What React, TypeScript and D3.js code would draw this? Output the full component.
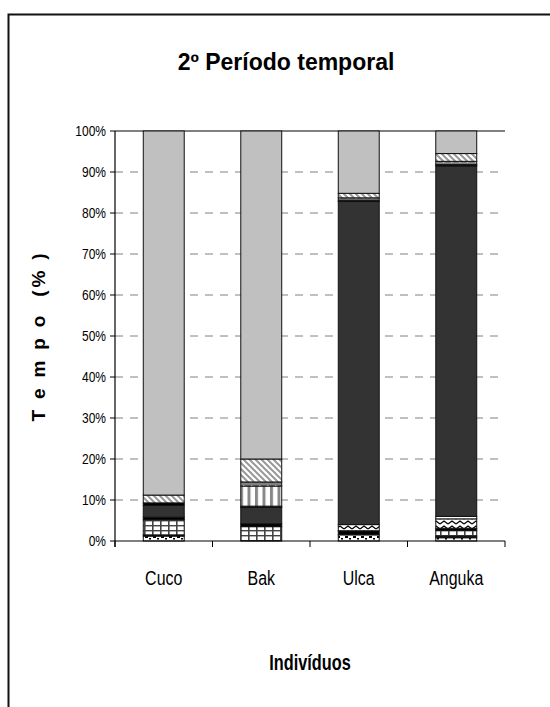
import * as d3 from "d3";

// individuals on the x axis
const individuals = ["Cuco", "Bak", "Ulca", "Anguka"];

// % of time per behaviour, stacked bottom -> top (legend not shown in the source)
const dotted = [1.2, 0, 1.5, 0.8];
const blackA = [0.3, 0, 1.0, 0.4];
const grid = [3.7, 3.5, 0, 1.4];
const blackB = [0.6, 0.7, 0, 0.5];
const zigzag = [0, 0, 1.5, 2.3];
const white = [0, 0, 0, 0.6];
const darkGray = [2.9, 4.0, 78.8, 85.5];
const blackC = [0.6, 0.3, 0.3, 0.3];
const vStripes = [0, 4.9, 0, 0];
const grayDots = [0, 1.0, 0.6, 0.8];
const hatch = [1.9, 5.6, 1.1, 1.9];
const lightGray = [88.8, 80.0, 15.2, 5.5];

const yTicks = [0, 10, 20, 30, 40, 50, 60, 70, 80, 90, 100];

const series = [
  { key: "dotted", values: dotted, fill: "url(#pDotted)" },
  { key: "blackA", values: blackA, fill: "#000" },
  { key: "grid", values: grid, fill: "url(#pGrid)" },
  { key: "blackB", values: blackB, fill: "#000" },
  { key: "zigzag", values: zigzag, fill: "url(#pZigzag)" },
  { key: "white", values: white, fill: "#fff" },
  { key: "darkGray", values: darkGray, fill: "#333" },
  { key: "blackC", values: blackC, fill: "#000" },
  { key: "vStripes", values: vStripes, fill: "url(#pVStripes)" },
  { key: "grayDots", values: grayDots, fill: "url(#pGrayDots)" },
  { key: "hatch", values: hatch, fill: "url(#pHatch)" },
  { key: "lightGray", values: lightGray, fill: "#c0c0c0" },
];

const W = 550;
const H = 707;
const M = { left: 115, right: 505, top: 131, bottom: 541 };

const sans = "'Liberation Sans', Arial, sans-serif";

// the source uses a narrow face; squeeze Liberation Sans horizontally
function NarrowText(props: {
  x: number;
  y: number;
  size: number;
  anchor: string;
  squeeze?: number;
  bold?: boolean;
  children: any;
}) {
  return (
    <text
      transform={`translate(${props.x},${props.y}) scale(${props.squeeze ?? 0.8},1)`}
      textAnchor={props.anchor}
      fontFamily={sans}
      fontWeight={props.bold ? "bold" : "normal"}
      fontSize={props.size}
    >
      {props.children}
    </text>
  );
}

export default function App() {
  const x = d3
    .scaleBand<string>()
    .domain(individuals)
    .range([M.left, M.right])
    .paddingInner(0.58)
    .paddingOuter(0.29);
  const y = d3.scaleLinear().domain([0, 100]).range([M.bottom, M.top]);

  const table = individuals.map((name, i) => {
    const row: any = { name };
    series.forEach((s) => (row[s.key] = s.values[i]));
    return row;
  });
  const stacked = d3.stack<any>().keys(series.map((s) => s.key))(table);

  const step = x.step();
  const boundaries = d3.range(individuals.length + 1).map((i) => M.left + i * step);

  return (
    <svg
      width={W}
      height={H}
      style={{ position: "fixed", left: 0, top: 0, background: "#fff" }}
    >
      <defs>
        <pattern id="pDotted" width="8" height="5" patternUnits="userSpaceOnUse">
          <rect width="8" height="5" fill="#fff" />
          <rect x="1" y="1" width="3" height="2" fill="#000" />
          <rect x="5" y="3" width="2" height="1.5" fill="#000" />
        </pattern>
        <pattern id="pGrid" width="8" height="5" patternUnits="userSpaceOnUse">
          <rect width="8" height="5" fill="#fff" />
          <rect x="0" y="0" width="1.6" height="5" fill="#444" />
          <rect x="0" y="0" width="8" height="1.4" fill="#444" />
        </pattern>
        <pattern id="pZigzag" width="8" height="5" patternUnits="userSpaceOnUse">
          <rect width="8" height="5" fill="#fff" />
          <polyline points="0,4 4,1 8,4" fill="none" stroke="#000" strokeWidth="1.3" />
        </pattern>
        <pattern id="pVStripes" width="7.5" height="4" patternUnits="userSpaceOnUse">
          <rect width="7.5" height="4" fill="#fff" />
          <rect x="0" y="0" width="3" height="4" fill="#888" />
        </pattern>
        <pattern id="pGrayDots" width="8" height="4" patternUnits="userSpaceOnUse">
          <rect width="8" height="4" fill="#808080" />
          <rect x="3" y="1" width="1.5" height="1.5" fill="#fff" />
        </pattern>
        <pattern id="pHatch" width="6" height="6" patternUnits="userSpaceOnUse">
          <rect width="6" height="6" fill="#fff" />
          <path d="M-1,-1 L7,7 M-1,5 L1,7 M5,-1 L7,1" stroke="#999" strokeWidth="2" />
        </pattern>
      </defs>

      {/* outer frame, runs off the right and bottom edges */}
      <rect x={8.5} y={14.5} width={700} height={900} fill="none" stroke="#111" strokeWidth={2} />

      <text
        x={286}
        y={70}
        textAnchor="middle"
        fontFamily={sans}
        fontWeight="bold"
        fontSize={23}
      >
        2º Período temporal
      </text>

      {/* gridlines */}
      {yTicks
        .filter((t) => t > 0 && t < 100)
        .map((t) => (
          <line
            key={t}
            x1={M.left}
            x2={M.right}
            y1={y(t)}
            y2={y(t)}
            stroke="#808080"
            strokeDasharray="8,7"
          />
        ))}
      <line x1={M.left} x2={M.right} y1={y(100)} y2={y(100)} stroke="#808080" strokeWidth={2} />

      {/* stacked bars */}
      {stacked.map((layer, li) => (
        <g key={layer.key} fill={series[li].fill}>
          {layer.map((d: any) =>
            d[1] - d[0] > 0 ? (
              <rect
                key={d.data.name}
                x={x(d.data.name)}
                y={y(d[1])}
                width={x.bandwidth()}
                height={y(d[0]) - y(d[1])}
                stroke="#111"
                strokeWidth={1}
              />
            ) : null
          )}
        </g>
      ))}

      {/* y axis */}
      <line x1={M.left} x2={M.left} y1={M.top} y2={M.bottom + 6} stroke="#000" strokeWidth={1.2} />
      {yTicks.map((t) => (
        <g key={t}>
          <line x1={M.left - 5} x2={M.left} y1={y(t)} y2={y(t)} stroke="#000" />
          <NarrowText x={M.left - 9} y={y(t) + 5} size={15} anchor="end">
            {t}%
          </NarrowText>
        </g>
      ))}
      <text
        transform={`translate(45,${(M.top + M.bottom) / 2}) rotate(-90)`}
        textAnchor="middle"
        fontFamily={sans}
        fontWeight="bold"
        fontSize={19}
        letterSpacing={2.8}
        style={{ whiteSpace: "pre" }}
      >
        T e m p o  (% )
      </text>

      {/* x axis */}
      <line x1={M.left} x2={M.right} y1={M.bottom} y2={M.bottom} stroke="#000" strokeWidth={1.2} />
      {boundaries.map((bx, i) => (
        <line key={i} x1={bx} x2={bx} y1={M.bottom} y2={M.bottom + 6} stroke="#000" />
      ))}
      {individuals.map((name) => (
        <NarrowText
          key={name}
          x={(x(name) ?? 0) + x.bandwidth() / 2}
          y={585}
          size={21}
          squeeze={0.76}
          anchor="middle"
        >
          {name}
        </NarrowText>
      ))}
      <NarrowText x={(M.left + M.right) / 2} y={670} size={22} squeeze={0.74} anchor="middle" bold>
        Indivíduos
      </NarrowText>
    </svg>
  );
}
